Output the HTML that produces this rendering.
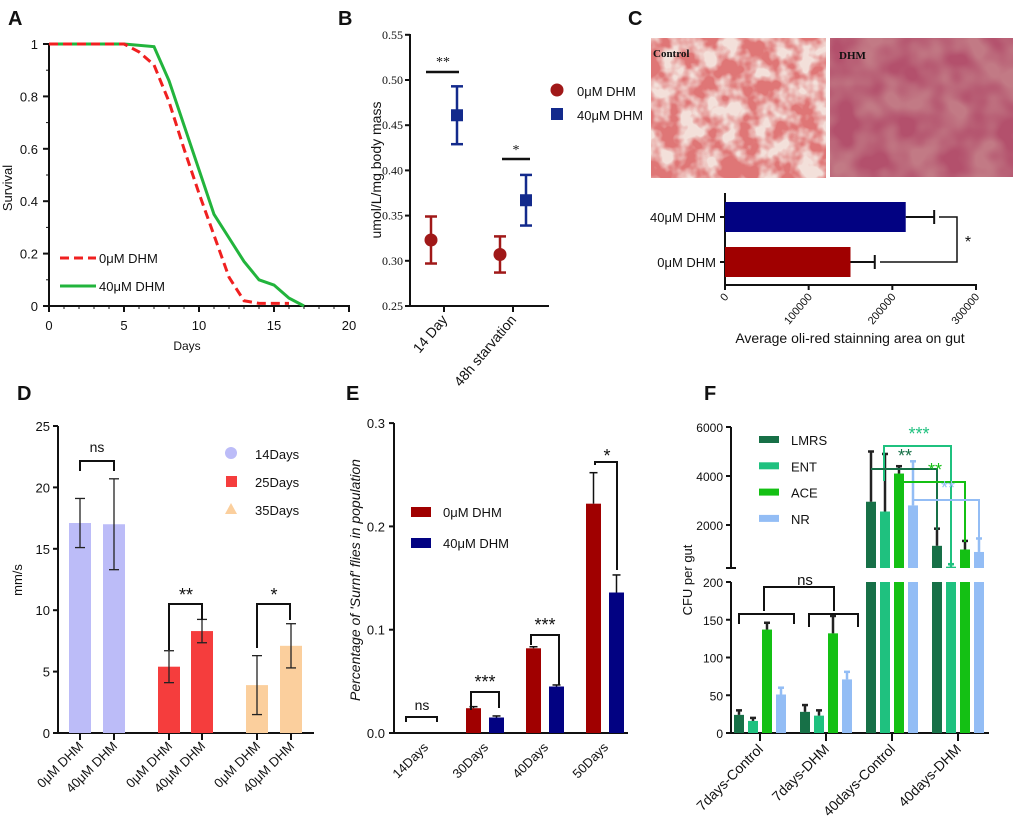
<!DOCTYPE html>
<html><head><meta charset="utf-8"><style>
body{margin:0;background:#fff}
svg{display:block;font-family:"Liberation Sans",Arial,sans-serif}
</style></head><body>
<svg id="fig" width="1020" height="836" viewBox="0 0 1020 836" xmlns="http://www.w3.org/2000/svg">
<defs>
<filter id="texC" x="0" y="0" width="100%" height="100%">
<feTurbulence type="fractalNoise" baseFrequency="0.05" numOctaves="3" seed="3"/>
<feColorMatrix type="matrix" values="0 0 0 0 0.74  0 0 0 0 0.18  0 0 0 0 0.18  3.4 0 0 0 -1.15"/>
</filter>
<filter id="texD" x="0" y="0" width="100%" height="100%">
<feTurbulence type="fractalNoise" baseFrequency="0.035" numOctaves="2" seed="7"/>
<feColorMatrix type="matrix" values="0 0 0 0 0.45  0 0 0 0 0.08  0 0 0 0 0.15  2.6 0 0 0 -0.8"/>
</filter>
</defs>
<g id="root"></g>
</svg>
<script>
// ---------- data ----------
const survDays0 = [0,5,6,7,8,9,10,11,12,13,14,16];
const survVals0 = [1,1,0.97,0.92,0.78,0.6,0.43,0.27,0.11,0.02,0.01,0.01];
const survDays40 = [0,5,7,8,9,10,11,12,13,14,15,16,17];
const survVals40 = [1,1,0.99,0.86,0.69,0.52,0.35,0.26,0.17,0.1,0.08,0.03,0];
const survXTicks = [0,5,10,15,20];
const survYTicks = [0,0.2,0.4,0.6,0.8,1];

const bCats = ["14 Day","48h starvation"];
const bMean0 = [0.323,0.307];
const bErr0 = [0.026,0.020];
const bMean40 = [0.461,0.367];
const bErr40 = [0.032,0.028];
const bYTicks = [0.25,0.30,0.35,0.40,0.45,0.50,0.55];

const cCats = ["40μM DHM","0μM DHM"];
const cVals = [216000,150000];
const cErrs = [34000,29000];
const cXTicks = [0,100000,200000,300000];

const dCats = ["0μM DHM","40μM DHM","0μM DHM","40μM DHM","0μM DHM","40μM DHM"];
const dVals = [17.1,17.0,5.4,8.3,3.9,7.1];
const dErrs = [2.0,3.7,1.3,0.95,2.4,1.8];
const dYTicks = [0,5,10,15,20,25];

const eCats = ["14Days","30Days","40Days","50Days"];
const eVals0 = [0,0.024,0.082,0.222];
const eErr0 = [0,0.0015,0.0015,0.030];
const eVals40 = [0,0.015,0.045,0.136];
const eErr40 = [0,0.0015,0.0015,0.017];
const eYTicks = [0,0.1,0.2,0.3];

const fCats = ["7days-Control","7days-DHM","40days-Control","40days-DHM"];
const fSeries = ["LMRS","ENT","ACE","NR"];
const fLMRS = [24,28,2950,1150];
const fLMRSe = [6,9,2050,700];
const fENT = [16,23,2550,300];
const fENTe = [4,7,2350,100];
const fACE = [137,132,4100,1000];
const fACEe = [9,23,300,350];
const fNR = [51,71,2800,900];
const fNRe = [9,10,1800,550];
const fLowTicks = [0,50,100,150,200];
const fHighTicks = [2000,4000,6000];

// ---------- helpers ----------
const NS="http://www.w3.org/2000/svg";
const root=document.getElementById('root');
function mk(tag,attrs,name,parent){
  const el=document.createElementNS(NS,tag);
  for(const k in attrs) el.setAttribute(k,attrs[k]);
  
  
  (parent||root).appendChild(el);
  return el;
}
function line(x1,y1,x2,y2,name,stroke,w,extra){
  const a={x1:x1,y1:y1,x2:x2,y2:y2,stroke:stroke||'#111','stroke-width':w||2};
  if(extra) Object.assign(a,extra);
  return mk('line',a,name);
}
function txt(x,y,s,name,size,extra){
  const a={x:x,y:y,'font-size':size||13,fill:'#111'};
  if(extra) Object.assign(a,extra);
  const t=mk('text',a,name);
  t.textContent=s;
  return t;
}
function poly(pts,name,stroke,w,extra){
  const a={points:pts.map(p=>p.join(',')).join(' '),fill:'none',stroke:stroke||'#111','stroke-width':w||2};
  if(extra) Object.assign(a,extra);
  return mk('polyline',a,name);
}
function rect(x,y,w,h,fill,name){return mk('rect',{x:x,y:y,width:w,height:h,fill:fill},name);}
function errbar(x,y1,y2,name,col,cap,w){
  line(x,y1,x,y2,name,col||'#111',w||1.5);
  line(x-(cap||4),y2,x+(cap||4),y2,name+'-cap',col||'#111',w||1.5);
}
// panel letters
txt(8,25,"A","panel-label-a",20,{'font-weight':'bold'});
txt(338,25,"B","panel-label-b",20,{'font-weight':'bold'});
txt(628,25,"C","panel-label-c",20,{'font-weight':'bold'});
txt(17,400,"D","panel-label-d",20,{'font-weight':'bold'});
txt(346,400,"E","panel-label-e",20,{'font-weight':'bold'});
txt(704,400,"F","panel-label-f",20,{'font-weight':'bold'});

// ---------- Panel A ----------
const xA=d=>49+d*15.0, yA=v=>306-v*262;
line(49,44,49,307,"a-y-axis");
line(48,306,350,306,"a-x-axis");
for(let d=0;d<=20;d++) line(xA(d),306,xA(d),309,"a-x-minor-tick","#111",1);
for(let v=0;v<=10;v++) line(46,yA(v/10),49,yA(v/10),"a-y-minor-tick","#111",1);
survXTicks.forEach(t=>{line(xA(t),306,xA(t),312,"a-x-tick");txt(xA(t),330,String(t),"a-x-tick-label",13,{'text-anchor':'middle'});});
survYTicks.forEach(t=>{line(43,yA(t),49,yA(t),"a-y-tick");txt(38,yA(t)+5,String(t),"a-y-tick-label",13,{'text-anchor':'end'});});
txt(187,350,"Days","a-x-axis-title",12,{'text-anchor':'middle'});
txt(12,188,"Survival","a-y-axis-title",13,{'text-anchor':'middle',transform:'rotate(-90 12 188)'});
poly(survDays40.map((d,i)=>[xA(d),yA(survVals40[i])]),"a-line-40um","#22b43c",3);
poly(survDays0.map((d,i)=>[xA(d),yA(survVals0[i])]),"a-line-0um","#f02020",3,{'stroke-dasharray':'9,5'});
line(60,258,96,258,"a-legend-0um-swatch","#f02020",3,{'stroke-dasharray':'9,5'});
txt(99,263,"0μM DHM","a-legend-0um-label",13);
line(60,286,96,286,"a-legend-40um-swatch","#22b43c",3);
txt(99,291,"40μM DHM","a-legend-40um-label",13);

// ---------- Panel B ----------
const yB=v=>306-(v-0.25)/0.05*45.2;
const bX=[431,500];
const serif={'font-family':'Liberation Serif,serif'};
line(410,34,410,307,"b-y-axis");
line(409,306,549,306,"b-x-axis");
bYTicks.forEach(t=>{line(405,yB(t),410,yB(t),"b-y-tick");txt(403,yB(t)+4,t.toFixed(2),"b-y-tick-label",12,Object.assign({'text-anchor':'end'},serif));});
txt(381,170,"umol/L/mg body mass","b-y-axis-title",14,{'text-anchor':'middle',transform:'rotate(-90 381 170)'});
bCats.forEach((c,i)=>{
  const x=[444,513][i];
  line(x,306,x,312,"b-x-tick");
  txt(x+4,320,c,"b-x-tick-label",14,{'text-anchor':'end',transform:`rotate(-50 ${x+4} 320)`});
  const xr=bX[i], xb=bX[i]+26;
  line(xr,yB(bMean0[i]-bErr0[i]),xr,yB(bMean0[i]+bErr0[i]),"b-err-0um","#a01818",2.5);
  line(xr-6,yB(bMean0[i]-bErr0[i]),xr+6,yB(bMean0[i]-bErr0[i]),"b-err-cap","#a01818",2.5);
  line(xr-6,yB(bMean0[i]+bErr0[i]),xr+6,yB(bMean0[i]+bErr0[i]),"b-err-cap","#a01818",2.5);
  mk('circle',{cx:xr,cy:yB(bMean0[i]),r:6.5,fill:'#a01818'},"b-point-0um");
  line(xb,yB(bMean40[i]-bErr40[i]),xb,yB(bMean40[i]+bErr40[i]),"b-err-40um","#132a8c",2.5);
  line(xb-6,yB(bMean40[i]-bErr40[i]),xb+6,yB(bMean40[i]-bErr40[i]),"b-err-cap","#132a8c",2.5);
  line(xb-6,yB(bMean40[i]+bErr40[i]),xb+6,yB(bMean40[i]+bErr40[i]),"b-err-cap","#132a8c",2.5);
  rect(xb-6,yB(bMean40[i])-6,12,12,'#132a8c',"b-point-40um");
});
line(426,72,459,72,"b-sig-line-14day","#111",2.5);
txt(443,66,"**","b-sig-14day",14,Object.assign({'text-anchor':'middle'},serif));
line(502,159,530,159,"b-sig-line-48h","#111",2.5);
txt(516,154,"*","b-sig-48h",14,Object.assign({'text-anchor':'middle'},serif));
mk('circle',{cx:557,cy:90,r:6.5,fill:'#a01818'},"b-legend-0um-marker");
txt(577,96,"0μM DHM","b-legend-0um-label",13);
rect(551,108,12,12,'#132a8c',"b-legend-40um-marker");
txt(577,120,"40μM DHM","b-legend-40um-label",13);

// ---------- Panel C ----------
rect(651,38,175,140,'#f3e0da',"c-photo-control");
mk('rect',{x:651,y:38,width:175,height:140,filter:'url(#texC)'},"c-photo-control-texture");
txt(653,57,"Control","c-photo-control-label",11,{'font-family':'Liberation Serif,serif','font-weight':'bold'});
rect(830,38,183,139,'#c27a85',"c-photo-dhm");
mk('rect',{x:830,y:38,width:183,height:139,filter:'url(#texD)'},"c-photo-dhm-texture");
txt(839,59,"DHM","c-photo-dhm-label",11,{'font-family':'Liberation Serif,serif','font-weight':'bold'});
const xC=v=>725+v/300000*251;
const cY=[202,247];
line(725,193,725,286,"c-y-axis");
line(724,285,977,285,"c-x-axis");
cXTicks.forEach(t=>{line(xC(t),285,xC(t),290,"c-x-tick");txt(xC(t)+4,297,String(t),"c-x-tick-label",11,{'text-anchor':'end',transform:`rotate(-50 ${xC(t)+4} 297)`});});
cCats.forEach((c,i)=>{
  const col=i===0?'#020282':'#a00000';
  line(720,cY[i]+15,725,cY[i]+15,"c-y-tick");
  txt(716,cY[i]+20,c,"c-y-tick-label",13,{'text-anchor':'end'});
  rect(725,cY[i],xC(cVals[i])-725,30,col,"c-bar");
  line(xC(cVals[i]),cY[i]+15,xC(cVals[i]+cErrs[i]),cY[i]+15,"c-err","#111",2);
  line(xC(cVals[i]+cErrs[i]),cY[i]+8,xC(cVals[i]+cErrs[i]),cY[i]+22,"c-err-cap","#111",2);
});
poly([[939,217],[957,217],[957,262],[880,262]],"c-sig-bracket","#111",1.5);
txt(968,247,"*","c-sig-label",16,{'text-anchor':'middle'});
txt(850,343,"Average oli-red stainning area on gut","c-x-axis-title",14,{'text-anchor':'middle'});

// ---------- Panel D ----------
const yD=v=>733-v*12.28;
const dX=[80,114,169,202,257,291];
const dCol=['#bcbcf8','#bcbcf8','#f53d3d','#f53d3d','#fbcf9d','#fbcf9d'];
line(58,426,58,734,"d-y-axis");
line(57,733,314,733,"d-x-axis");
dYTicks.forEach(t=>{line(53,yD(t),58,yD(t),"d-y-tick");txt(50,yD(t)+5,String(t),"d-y-tick-label",13,{'text-anchor':'end'});});
txt(22,580,"mm/s","d-y-axis-title",13,{'text-anchor':'middle',transform:'rotate(-90 22 580)'});
dCats.forEach((c,i)=>{
  rect(dX[i]-11,yD(dVals[i]),22,733-yD(dVals[i]),dCol[i],"d-bar");
  line(dX[i],yD(dVals[i]-dErrs[i]),dX[i],yD(dVals[i]+dErrs[i]),"d-err","#222",1.3);
  line(dX[i]-5,yD(dVals[i]-dErrs[i]),dX[i]+5,yD(dVals[i]-dErrs[i]),"d-err-cap","#222",1.3);
  line(dX[i]-5,yD(dVals[i]+dErrs[i]),dX[i]+5,yD(dVals[i]+dErrs[i]),"d-err-cap","#222",1.3);
  line(dX[i],733,dX[i],740,"d-x-tick");
  txt(dX[i]+4,747,c,"d-x-tick-label",13,{'text-anchor':'end',transform:`rotate(-45 ${dX[i]+4} 747)`});
});
poly([[80,471],[80,461],[114,461],[114,471]],"d-sig-bracket-14","#111",2);
txt(97,452,"ns","d-sig-14",14,{'text-anchor':'middle'});
poly([[169,650],[169,604],[202,604],[202,620]],"d-sig-bracket-25","#111",2);
txt(186,601,"**","d-sig-25",18,{'text-anchor':'middle'});
poly([[257,648],[257,604],[290,604],[290,620]],"d-sig-bracket-35","#111",2);
txt(274,601,"*","d-sig-35",18,{'text-anchor':'middle'});
mk('circle',{cx:231,cy:453,r:6,fill:'#bcbcf8'},"d-legend-14-marker");
txt(255,459,"14Days","d-legend-14-label",13);
rect(226,476,11,11,'#f53d3d',"d-legend-25-marker");
txt(255,487,"25Days","d-legend-25-label",13);
mk('polygon',{points:'231,503 237,514 225,514',fill:'#fbcf9d'},"d-legend-35-marker");
txt(255,515,"35Days","d-legend-35-label",13);

// ---------- Panel E ----------
const yE=v=>733-v*1033;
const eX=[425,485,545,605];
line(394,423,394,734,"e-y-axis");
line(393,733,628,733,"e-x-axis");
eYTicks.forEach(t=>{line(389,yE(t),394,yE(t),"e-y-tick");txt(385,yE(t)+5,t.toFixed(1),"e-y-tick-label",13,{'text-anchor':'end'});});
txt(360,580,"Percentage of 'Surnf' flies in population","e-y-axis-title",14,{'text-anchor':'middle','font-style':'italic',transform:'rotate(-90 360 580)'});
eCats.forEach((c,i)=>{
  const xr=eX[i]-11.5, xb=eX[i]+11.5;
  if(eVals0[i]>0){
    rect(xr-7.5,yE(eVals0[i]),15,733-yE(eVals0[i]),'#a00000',"e-bar-0um");
    errbar(xr,yE(eVals0[i]),yE(eVals0[i]+eErr0[i]),"e-err-0um");
  }
  if(eVals40[i]>0){
    rect(xb-7.5,yE(eVals40[i]),15,733-yE(eVals40[i]),'#020282',"e-bar-40um");
    errbar(xb,yE(eVals40[i]),yE(eVals40[i]+eErr40[i]),"e-err-40um");
  }
  txt(eX[i]+4,748,c,"e-x-tick-label",13,{'text-anchor':'end',transform:`rotate(-45 ${eX[i]+4} 748)`});
});
poly([[406,722],[406,717],[437,717],[437,722]],"e-sig-bracket-14","#111",2);
txt(422,710,"ns","e-sig-14",14,{'text-anchor':'middle'});
poly([[471,710],[471,692],[499,692],[499,708]],"e-sig-bracket-30","#111",2);
txt(485,688,"***","e-sig-30",18,{'text-anchor':'middle'});
poly([[531,645],[531,635],[559,635],[559,685]],"e-sig-bracket-40","#111",2);
txt(545,631,"***","e-sig-40",18,{'text-anchor':'middle'});
poly([[595,465],[595,462],[617,462],[617,570]],"e-sig-bracket-50","#111",2);
txt(607,462,"*","e-sig-50",18,{'text-anchor':'middle'});
rect(411,507,20,10,'#a00000',"e-legend-0um-swatch");
txt(443,517,"0μM DHM","e-legend-0um-label",13);
rect(411,538,20,10,'#020282',"e-legend-40um-swatch");
txt(443,548,"40μM DHM","e-legend-40um-label",13);

// ---------- Panel F ----------
const yFL=v=>733-v*0.755;
const yFU=v=>525-(v-2000)*0.0245;
const fGX=[760,826,892,958];
const fOff=[-21,-7,7,21];
const fCol=['#177047','#1fc17f','#14c014','#93bdf5'];
const fData=[fLMRS,fENT,fACE,fNR];
const fErr=[fLMRSe,fENTe,fACEe,fNRe];
line(731,427,731,568,"f-y-axis-upper");
line(731,582,731,734,"f-y-axis-lower");
line(726,568,736,568,"f-axis-break");
line(730,733,989,733,"f-x-axis");
fLowTicks.forEach(t=>{line(726,yFL(t),731,yFL(t),"f-y-tick");txt(723,yFL(t)+5,String(t),"f-y-tick-label",12,{'text-anchor':'end'});});
fHighTicks.forEach(t=>{line(726,yFU(t),731,yFU(t),"f-y-tick");txt(723,yFU(t)+5,String(t),"f-y-tick-label",12,{'text-anchor':'end'});});
txt(692,580,"CFU per gut","f-y-axis-title",13,{'text-anchor':'middle',transform:'rotate(-90 692 580)'});
fCats.forEach((c,g)=>{
  line(fGX[g],733,fGX[g],741,"f-x-tick");
  txt(fGX[g]+4,750,c,"f-x-tick-label",14,{'text-anchor':'end',transform:`rotate(-45 ${fGX[g]+4} 750)`});
  fData.forEach((arr,s)=>{
    const x=fGX[g]+fOff[s], v=arr[g], e=fErr[s][g];
    if(v<=200){
      rect(x-5,yFL(v),10,733-yFL(v),fCol[s],"f-bar-"+fSeries[s].toLowerCase());
      errbar(x,yFL(v),yFL(v+e),"f-err",s===3?'#93bdf5':'#222',3,2.5);
    } else {
      rect(x-5,582,10,151,fCol[s],"f-bar-"+fSeries[s].toLowerCase()+"-lower");
      rect(x-5,yFU(v),10,568-yFU(v),fCol[s],"f-bar-"+fSeries[s].toLowerCase()+"-upper");
      errbar(x,yFU(v),yFU(v+e),"f-err",s===3?'#93bdf5':(s===1&&g===3?'#1fc17f':'#222'),3,2.5);
    }
  });
});
poly([[739,624],[739,614],[794,614],[794,624]],"f-ns-bracket-7control","#111",2);
poly([[809,627],[809,614],[858,614],[858,627]],"f-ns-bracket-7dhm","#111",2);
poly([[764,611],[764,587],[834,587],[834,611]],"f-ns-bracket-top","#111",2);
txt(805,585,"ns","f-ns-label",15,{'text-anchor':'middle'});
poly([[884,481],[884,446],[951,446],[951,568]],"f-sig-bracket-ent","#1fc17f",2);
txt(919,440,"***","f-sig-ent",18,{'text-anchor':'middle',fill:'#1fc17f'});
poly([[871,469],[937,469],[937,530]],"f-sig-bracket-lmrs","#177047",2);
txt(905,462,"**","f-sig-lmrs",18,{'text-anchor':'middle',fill:'#177047'});
poly([[899,482],[965,482],[965,542]],"f-sig-bracket-ace","#14c014",2);
txt(935,476,"**","f-sig-ace",18,{'text-anchor':'middle',fill:'#14c014'});
poly([[913,500],[979,500],[979,540]],"f-sig-bracket-nr","#93bdf5",2);
txt(948,494,"**","f-sig-nr",18,{'text-anchor':'middle',fill:'#93bdf5'});
fSeries.forEach((s,i)=>{
  rect(759,436+i*26.3,20,7,fCol[i],"f-legend-swatch-"+s.toLowerCase());
  txt(791,445+i*26.3,s,"f-legend-label-"+s.toLowerCase(),13);
});
</script>
</body></html>
